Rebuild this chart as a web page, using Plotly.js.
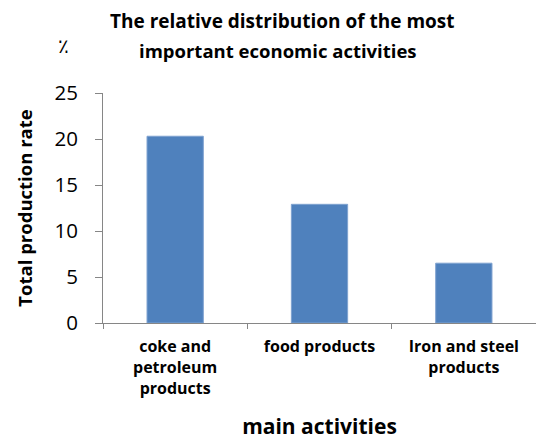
<!DOCTYPE html>
<html>
<head>
<meta charset="utf-8">
<script src="https://cdn.plot.ly/plotly-3.0.1.min.js"></script>
<style>html,body{margin:0;padding:0;background:#fff;}#chart{width:536px;height:440px;}</style>
</head>
<body>
<div id="chart"></div>
<script>
const categories = ["coke and<br>petroleum<br>products", "food products", "Iron and steel<br>products"];
const values = [20.3, 12.9, 6.5];
const yTicks = [0, 5, 10, 15, 20, 25];
const titleLines = ["The relative distribution of the most", "important economic activities"];

const font = "Open Sans, Liberation Sans, sans-serif";

// plot area in pixels
const L = 103, T = 93, W = 433, H = 230;
const px = x => (x - L) / W;
const py = y => (T + H - y) / H;

const trace = {
  type: "bar",
  x: categories,
  y: values,
  marker: {color: "#4F81BD", line: {color: "#7FA2D0", width: 1}},
  hoverinfo: "none"
};

const layout = {
  width: 536, height: 440,
  margin: {l: L, r: 536 - L - W, t: T, b: 440 - T - H},
  paper_bgcolor: "#fff", plot_bgcolor: "#fff",
  showlegend: false,
  bargap: 0.61,
  xaxis: {
    type: "category",
    showline: true, linecolor: "#868686", linewidth: 1,
    ticks: "outside", tickson: "boundaries", ticklen: 5, tickcolor: "#868686",
    ticklabelstandoff: 9,
    showgrid: false, zeroline: false,
    tickfont: {family: font, size: 16, color: "#000", weight: "bold"},
    title: {text: "<b>main activities</b>", font: {family: font, size: 21, color: "#000"}, standoff: 22}
  },
  yaxis: {
    range: [0, 25], tickvals: yTicks, ticktext: yTicks.map(String),
    showline: true, linecolor: "#868686", linewidth: 1,
    ticks: "outside", ticklen: 7, tickcolor: "#868686",
    ticklabelstandoff: 13,
    showgrid: false, zeroline: false,
    tickfont: {family: font, size: 20.5, color: "#000"},
    title: {text: "<b>Total production rate</b>", font: {family: font, size: 18.5, color: "#000"}, standoff: 16}
  },
  annotations: [
    {text: "<b>" + titleLines[0] + "</b>", xref: "paper", yref: "paper", x: px(282), y: py(21),
     xanchor: "center", yanchor: "middle", showarrow: false, font: {family: font, size: 19, color: "#000"}},
    {text: "<b>" + titleLines[1] + "</b>", xref: "paper", yref: "paper", x: px(278), y: py(51),
     xanchor: "center", yanchor: "middle", showarrow: false, font: {family: font, size: 18.5, color: "#000"}},
    {text: "٪", xref: "paper", yref: "paper", x: px(63), y: py(46),
     xanchor: "center", yanchor: "middle", showarrow: false, font: {family: "DejaVu Sans, sans-serif", size: 20, color: "#000"}}
  ]
};

Plotly.newPlot("chart", [trace], layout, {displayModeBar: false, staticPlot: true});
</script>
</body>
</html>
